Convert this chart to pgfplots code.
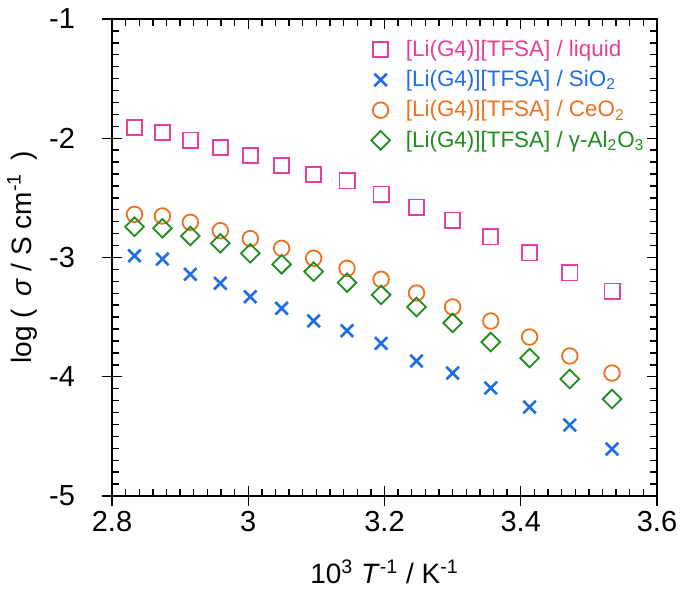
\documentclass[border=0pt]{standalone}
\usepackage{fontspec}
\setmainfont{Liberation Sans}
\usepackage{pgfplots}
\pgfplotsset{compat=1.18}
\definecolor{cpink}{RGB}{232,62,151}
\definecolor{cblue}{RGB}{30,110,230}
\definecolor{corange}{RGB}{240,112,32}
\definecolor{cgreen}{RGB}{30,140,30}
\pgfplotstableread{
x y
2.833 -1.908
2.874 -1.950
2.915 -2.015
2.959 -2.076
3.003 -2.146
3.049 -2.230
3.096 -2.302
3.145 -2.358
3.195 -2.468
3.247 -2.577
3.300 -2.686
3.356 -2.828
3.413 -2.962
3.472 -3.130
3.534 -3.281
}\tabliquid
\pgfplotstableread{
x y
2.833 -2.985
2.874 -3.013
2.915 -3.141
2.959 -3.216
3.003 -3.329
3.049 -3.426
3.096 -3.532
3.145 -3.614
3.195 -3.720
3.247 -3.868
3.300 -3.969
3.356 -4.094
3.413 -4.254
3.472 -4.405
3.534 -4.606
}\tabsio
\pgfplotstableread{
x y
2.833 -2.638
2.874 -2.652
2.915 -2.705
2.959 -2.775
3.003 -2.842
3.049 -2.923
3.096 -3.006
3.145 -3.091
3.195 -3.183
3.247 -3.298
3.300 -3.415
3.356 -3.533
3.413 -3.667
3.472 -3.826
3.534 -3.969
}\tabceo
\pgfplotstableread{
x y
2.833 -2.742
2.874 -2.755
2.915 -2.820
2.959 -2.881
3.003 -2.965
3.049 -3.057
3.096 -3.119
3.145 -3.211
3.195 -3.314
3.247 -3.415
3.300 -3.549
3.356 -3.709
3.413 -3.843
3.472 -4.019
3.534 -4.187
}\tabalo
\begin{document}
\begin{tikzpicture}
\begin{axis}[
  at={(0,0)}, anchor=south west,
  scale only axis, width=272.5pt, height=238.5pt,
  xmin=2.8, xmax=3.6, ymin=-5, ymax=-1,
  xtick={2.8,3,3.2,3.4,3.6}, ytick={-5,-4,-3,-2,-1},
  xticklabels={2.8,3,3.2,3.4,3.6},
  yticklabels={-5,-4,-3,-2,-1},
  major tick length=0pt,
  tick label style={font=\fontsize{14.5}{16}\selectfont},
  xticklabel style={yshift=-4pt},
  yticklabel style={xshift=-15pt},
  xlabel={10\textsuperscript{3} \textit{T}\textsuperscript{-1} / K\textsuperscript{-1}},
  ylabel={log (\, \textit{σ} / S cm\textsuperscript{-1} \,)},
  every axis label/.append style={font=\fontsize{14}{16}\selectfont},
  xlabel style={at={(0.5,0)}, anchor=center, yshift=-38pt},
  ylabel style={at={(0,0.5)}, anchor=center, yshift=45pt},
  legend style={draw=none, fill=none, at={(0.475,0.965)}, anchor=north west,
    font=\fontsize{11.2}{13}\selectfont, row sep=1.5pt, inner sep=0pt,
    /tikz/every odd column/.append style={column sep=6pt}},
  legend cell align=left,
]
\addplot[only marks, mark=square, mark size=3.8pt, cpink, line width=0.9pt] table {\tabliquid};
\addlegendentry{\textcolor{cpink}{[Li(G4)][TFSA] / liquid}}
\addplot[only marks, mark=x, mark size=4.4pt, cblue, line width=1.3pt] table {\tabsio};
\addlegendentry{\textcolor{cblue}{[Li(G4)][TFSA] / SiO\textsubscript{2}}}
\addplot[only marks, mark=o, mark size=3.9pt, corange, line width=0.9pt] table {\tabceo};
\addlegendentry{\textcolor{corange}{[Li(G4)][TFSA] / CeO\textsubscript{2}}}
\addplot[only marks, mark=square, mark options={rotate=45}, mark size=3.3pt, cgreen, line width=0.9pt] table {\tabalo};
\addlegendentry{\textcolor{cgreen}{[Li(G4)][TFSA] / γ-Al\textsubscript{2}O\textsubscript{3}}}
\end{axis}
% frame and ticks in plain TikZ: the axis box is (0,0)--(272.5pt,238.5pt)
\draw[black, line width=0.9pt] (0,0) rectangle (272.5pt,238.5pt);
\foreach \i in {1,...,39}{
  \pgfmathsetmacro\xx{\i*6.8125}
  \pgfmathsetmacro\yy{\i*5.9625}
  \draw[black, line width=0.7pt] (\xx pt,0) -- (\xx pt,3.5pt);
  \draw[black, line width=0.7pt] (\xx pt,238.5pt) -- (\xx pt,235pt);
  \draw[black, line width=0.7pt] (0,\yy pt) -- (3.5pt,\yy pt);
  \draw[black, line width=0.7pt] (272.5pt,\yy pt) -- (269pt,\yy pt);
}
\foreach \i in {0,10,20,30,40}{
  \pgfmathsetmacro\xx{\i*6.8125}
  \pgfmathsetmacro\yy{\i*5.9625}
  \draw[black, line width=0.7pt] (\xx pt,-5pt) -- (\xx pt,5pt);
  \draw[black, line width=0.7pt] (\xx pt,238.5pt) -- (\xx pt,233.5pt);
  \draw[black, line width=0.7pt] (-5pt,\yy pt) -- (5pt,\yy pt);
  \draw[black, line width=0.7pt] (272.5pt,\yy pt) -- (267.5pt,\yy pt);
}
\pgfresetboundingbox
\path[use as bounding box] (-56pt,-50.5pt) rectangle (286.5pt,248pt);
\end{tikzpicture}
\end{document}
